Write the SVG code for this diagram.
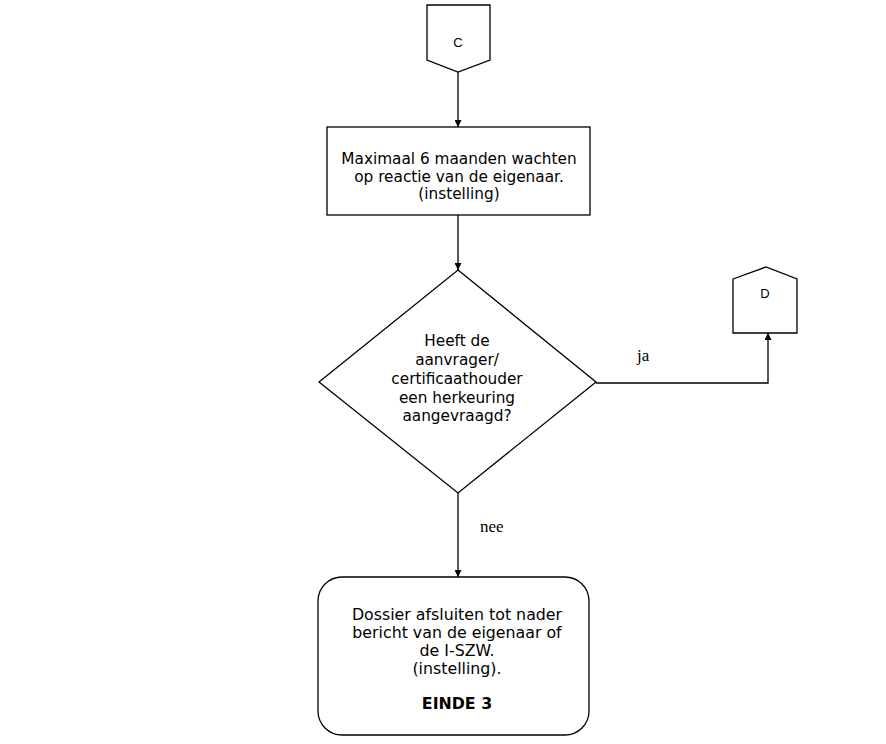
<svg xmlns="http://www.w3.org/2000/svg" width="886" height="744" viewBox="0 0 886 744">
<defs>
<marker id="arr" viewBox="0 0 10 10" refX="10" refY="5" markerWidth="7" markerHeight="7" markerUnits="userSpaceOnUse" orient="auto">
<path d="M0,0 L10,5 L0,10 z" fill="#000"/>
</marker>
<style>
.s{fill:#fff;stroke:#000;stroke-width:1.3}
.t{font-family:"DejaVu Sans",Verdana,sans-serif;font-size:15.3px;fill:#000;text-anchor:middle}
.t2{font-family:"DejaVu Sans",Verdana,sans-serif;font-size:15.8px;fill:#000;text-anchor:middle}
.c{font-family:"Liberation Sans",Arial,sans-serif;font-size:13px;fill:#000;text-anchor:middle}
.l{font-family:"Liberation Serif","Times New Roman",serif;font-size:17px;fill:#000}
.e{fill:none;stroke:#000;stroke-width:1.3}
</style>
</defs>
<rect width="886" height="744" fill="#fff"/>
<g id="connectors">
<line class="e" x1="458" y1="72" x2="458" y2="127" marker-end="url(#arr)"/>
<line class="e" x1="458" y1="215" x2="458" y2="270" marker-end="url(#arr)"/>
<polyline class="e" points="596,383 768,383 768,333" marker-end="url(#arr)"/>
<line class="e" x1="458" y1="493" x2="458" y2="577" marker-end="url(#arr)"/>
<text class="l" x="637" y="361">ja</text>
<text class="l" x="480" y="532">nee</text>
</g>
<g id="nodeC">
<polygon class="s" points="427,5 490,5 490,60 458,72 427,60"/>
<text class="c" x="458" y="47">C</text>
</g>
<g id="wait">
<rect class="s" x="327" y="127" width="263" height="88"/>
<text class="t" x="459" y="164">Maximaal 6 maanden wachten</text>
<text class="t" x="459" y="182">op reactie van de eigenaar.</text>
<text class="t" x="459" y="199">(instelling)</text>
</g>
<g id="decision">
<polygon class="s" points="458,270 596,382 458,493 319,382"/>
<text class="t" x="457" y="346">Heeft de</text>
<text class="t" x="457" y="365">aanvrager/</text>
<text class="t" x="457" y="384">certificaathouder</text>
<text class="t" x="457" y="403">een herkeuring</text>
<text class="t" x="457" y="421">aangevraagd?</text>
</g>
<g id="nodeD">
<polygon class="s" points="733,279 766,267 797,279 797,333 733,333"/>
<text class="c" x="765" y="298">D</text>
</g>
<g id="end">
<rect class="s" x="318" y="577" width="271" height="158" rx="24" ry="24"/>
<text class="t2" x="457" y="620">Dossier afsluiten tot nader</text>
<text class="t2" x="457" y="638">bericht van de eigenaar of</text>
<text class="t2" x="457" y="656">de I-SZW.</text>
<text class="t2" x="457" y="674">(instelling).</text>
<text class="t2" x="457" y="709" font-weight="bold">EINDE 3</text>
</g>
</svg>
